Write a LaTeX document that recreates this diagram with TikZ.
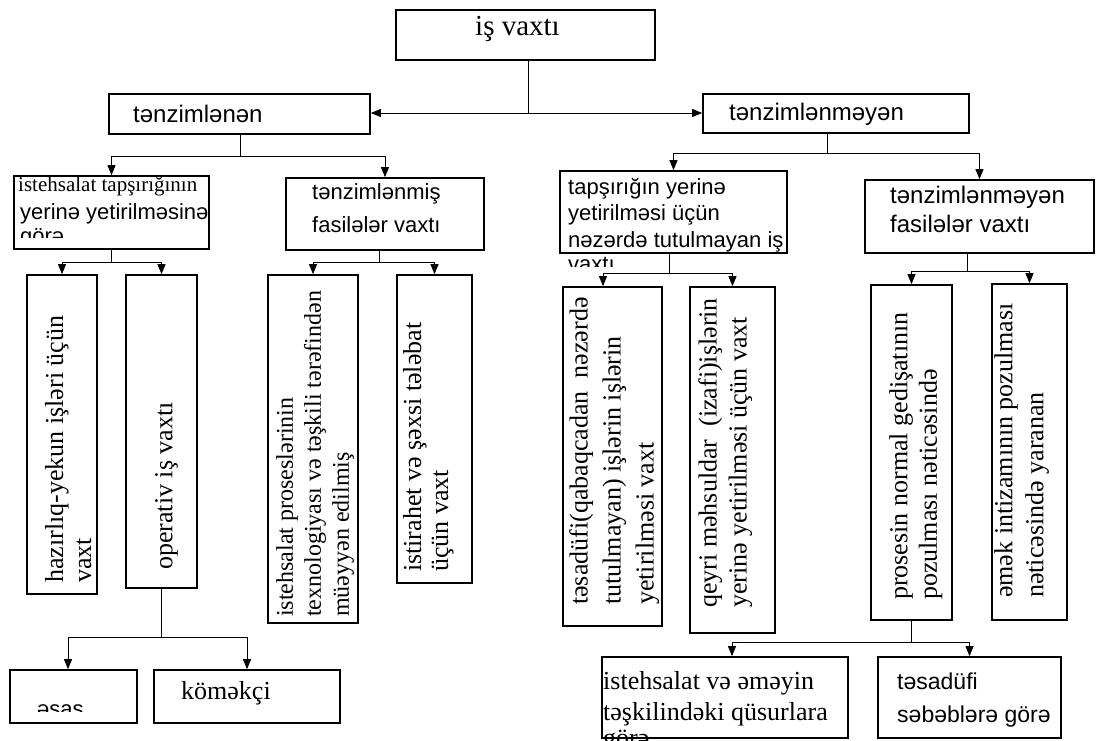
\documentclass[tikz,border=0pt]{standalone}
\usepackage{fontspec}
\setmainfont{Liberation Serif}
\setsansfont{Liberation Sans}
\usetikzlibrary{arrows.meta,fit,calc}
\newcommand{\fsz}[2]{\fontsize{#1}{#2}\selectfont}
\begin{document}
\begin{tikzpicture}[x=1pt,y=-1pt,
  box/.style={draw, line width=1.7pt, inner sep=0pt},
  conn/.style={line width=0.9pt},
  arr/.style={conn, -{Triangle[length=10pt,width=8pt]}},
  tx/.style={inner sep=0pt, anchor=base west},
  rot/.style={rotate=90, align=left, inner sep=0pt, anchor=north west}]
\useasboundingbox (0,0) rectangle (1099,740);
% boxes
\node[box, fit={(396,10)(655,60)}] (top) {};
\node[box, fit={(109,94)(370,134)}] (tz) {};
\node[box, fit={(703,94)(969,133)}] (ntz) {};
\node[box, fit={(14,176)(209,249)}] (b1) {};
\node[box, fit={(286,178)(484,250)}] (b2) {};
\node[box, fit={(560,171)(787,253)}] (b3) {};
\node[box, fit={(865,180)(1094,253)}] (b4) {};
\node[box, fit={(27,275)(97,594)}] (hz) {};
\node[box, fit={(126,275)(197,588)}] (op) {};
\node[box, fit={(268,275)(358,623)}] (ip) {};
\node[box, fit={(397,275)(472,583)}] (ist) {};
\node[box, fit={(563,287)(662,626)}] (ts) {};
\node[box, fit={(690,287)(775,633)}] (qm) {};
\node[box, fit={(871,285)(952,620)}] (pr) {};
\node[box, fit={(992,284)(1067,620)}] (em) {};
\node[box, fit={(10,670)(137,723)}] (es) {};
\node[box, fit={(154,670)(340,723)}] (km) {};
\node[box, fit={(602,657)(848,738)}] (b5) {};
\node[box, fit={(878,657)(1061,738)}] (b6) {};
% connectors
\coordinate (j0) at (528,113);
\draw[conn] (top.south -| j0) -- (j0);
\draw[arr] (j0) -- (tz.east |- j0);
\draw[arr] (j0) -- (ntz.west |- j0);
\coordinate (j1) at (240,156);
\draw[conn] (tz.south -| j1) -- (j1);
\draw[arr] (j1) -| (b1.north);
\draw[arr] (j1) -| (b2.north);
\coordinate (j2) at (827,153);
\draw[conn] (ntz.south -| j2) -- (j2);
\draw[arr] (j2) -| (b3.north);
\draw[arr] (j2) -| (b4.north);
\coordinate (j3) at (111.5,262);
\draw[conn] (b1.south -| j3) -- (j3);
\draw[arr] (j3) -| (hz.north);
\draw[arr] (j3) -| (op.north);
\coordinate (j4) at (379,262);
\draw[conn] (b2.south -| j4) -- (j4);
\draw[arr] (j4) -| (ip.north);
\draw[arr] (j4) -| (ist.north);
\coordinate (j5) at (669,273);
\draw[conn] (b3.south -| j5) -- (j5);
\draw[arr] (j5) -| ([xshift=-9.5pt]ts.north);
\draw[arr] (j5) -| (qm.north);
\coordinate (j6) at (967,271);
\draw[conn] (b4.south -| j6) -- (j6);
\draw[arr] (j6) -| (pr.north);
\draw[arr] (j6) -| (em.north);
\coordinate (j7) at (161.5,637);
\draw[conn] (op.south -| j7) -- (j7);
\draw[arr] (j7) -| ([xshift=-5.5pt]es.north);
\draw[arr] (j7) -| (km.north);
\coordinate (j8) at (911.5,642);
\draw[conn] (pr.south -| j8) -- (j8);
\draw[arr] (j8) -| ([xshift=7pt]b5.north);
\draw[arr] (j8) -| (b6.north);
% horizontal texts
\node[tx, font=\fsz{29}{31}] (t_top) at (475,35) {iş vaxtı};
\node[tx, font=\sffamily\fsz{24}{28}] (t_tz) at (133,122) {tənzimlənən};
\node[tx, font=\sffamily\fsz{24}{28}] (t_ntz) at (729,120) {tənzimlənməyən};
\node[tx, font=\fsz{21}{26}] (t_b1a) at (18,191) {istehsalat tapşırığının};
\node[tx, font=\sffamily\fsz{22}{26}] (t_b1b) at (20,219) {yerinə yetirilməsinə};
\begin{scope}
\clip (14,225) rectangle (209,237);
\node[tx, font=\sffamily\fsz{22}{26}] (t_b1c) at (20,243) {görə};
\end{scope}
\node[tx, font=\sffamily\fsz{22}{26}] (t_b2a) at (312,199) {tənzimlənmiş};
\node[tx, font=\sffamily\fsz{22}{26}] (t_b2b) at (312,232) {fasilələr vaxtı};
\node[tx, font=\sffamily\fsz{22}{26}] (t_b3a) at (568,194) {tapşırığın yerinə};
\node[tx, font=\sffamily\fsz{22}{26}] (t_b3b) at (568,220.5) {yetirilməsi üçün};
\node[tx, font=\sffamily\fsz{22}{26}] (t_b3c) at (568,247) {nəzərdə tutulmayan iş};
\begin{scope}
\clip (560,252) rectangle (787,266);
\node[tx, font=\sffamily\fsz{22}{26}] (t_b3d) at (568,271) {vaxtı};
\end{scope}
\node[tx, font=\sffamily\fsz{24}{28}] (t_b4a) at (890,203) {tənzimlənməyən};
\node[tx, font=\sffamily\fsz{24}{28}] (t_b4b) at (890,232) {fasilələr vaxtı};
\node[tx, font=\fsz{26}{30}] (t_km) at (181,699) {köməkçi};
\begin{scope}
\clip (10,690) rectangle (137,711);
\node[tx, font=\sffamily\fsz{22}{26}] (t_es) at (37,716) {əsas};
\end{scope}
\node[tx, font=\fsz{26}{30}] (t_b5a) at (603,689) {istehsalat və əməyin};
\node[tx, font=\fsz{26}{30}] (t_b5b) at (603,720) {təşkilindəki qüsurlara};
\node[tx, font=\fsz{26}{30}] (t_b5c) at (603,746) {görə};
\node[tx, font=\sffamily\fsz{23}{28}] (t_b6a) at (897,689) {təsadüfi};
\node[tx, font=\sffamily\fsz{23}{28}] (t_b6b) at (897,722) {səbəblərə görə};
% rotated texts
\node[rot, font=\fsz{26}{28}] (t_hz) at (45,583) {hazırlıq-yekun işləri üçün\\vaxt};
\node[rot, font=\fsz{26}{28}] (t_op) at (155,570) {operativ iş vaxtı};
\node[rot, font=\fsz{24}{28}] (t_ip) at (276,617) {istehsalat proseslərinin\\texnologiyası və təşkili tərəfindən\\müəyyən edilmiş};
\node[rot, font=\fsz{26}{27}] (t_ist) at (403,572) {istirahet və şəxsi tələbat\\üçün vaxt};
\node[rot, font=\fsz{26}{33}] (t_ts) at (569,605) {təsadüfi(qabaqcadan\ \ nəzərdə\\tutulmayan) işlərin işlərin\\yetirilməsi vaxt};
\node[rot, font=\fsz{26}{30}] (t_qm) at (698,608) {qeyri məhsuldar\ \ (izafi)işlərin\\yerinə yetirilməsi üçün vaxt};
\node[rot, font=\fsz{26}{29.5}] (t_pr) at (889,600) {prosesin normal gedişatının\\pozulması nəticəsində};
\node[rot, font=\fsz{26}{31}] (t_em) at (994,598) {əmək intizamının pozulması\\nəticəsində yaranan};
\end{tikzpicture}
\end{document}
